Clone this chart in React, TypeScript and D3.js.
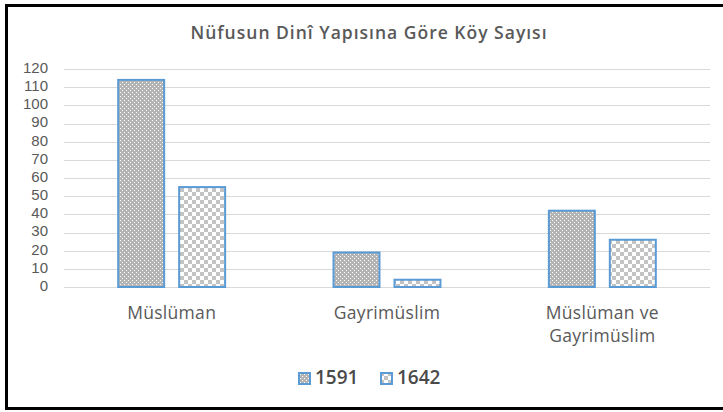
import { useEffect, useRef } from "react";
import * as d3 from "d3";

const categories = ["Müslüman", "Gayrimüslim", "Müslüman ve Gayrimüslim"];
const categoryLines = [["Müslüman"], ["Gayrimüslim"], ["Müslüman ve", "Gayrimüslim"]];
const seriesNames = ["1591", "1642"];
const values1591 = [114, 19, 42];
const values1642 = [55, 4, 26];
const yTicks = [0, 10, 20, 30, 40, 50, 60, 70, 80, 90, 100, 110, 120];
const title = "Nüfusun Dinî Yapısına Göre Köy Sayısı";

const W = 723;
const H = 412;
const font = "'Open Sans', sans-serif";
const textColor = "#595959";
const barStroke = "#5b9bd5";

export default function App() {
  const ref = useRef<SVGSVGElement | null>(null);

  useEffect(() => {
    const svg = d3.select(ref.current);
    svg.selectAll("*").remove();

    // patterns for the two series
    const defs = svg.append("defs");
    const dots = defs
      .append("pattern")
      .attr("id", "pat-dots")
      .attr("patternUnits", "userSpaceOnUse")
      .attr("width", 4)
      .attr("height", 4);
    dots.append("rect").attr("width", 4).attr("height", 4).attr("fill", "#b4b4b4");
    dots.append("rect").attr("x", 0).attr("y", 0).attr("width", 1).attr("height", 1).attr("fill", "#fff");
    dots.append("rect").attr("x", 2).attr("y", 2).attr("width", 1).attr("height", 1).attr("fill", "#fff");

    const checks = defs
      .append("pattern")
      .attr("id", "pat-checks")
      .attr("patternUnits", "userSpaceOnUse")
      .attr("width", 8)
      .attr("height", 8);
    checks.append("rect").attr("width", 8).attr("height", 8).attr("fill", "#fff");
    checks.append("rect").attr("x", 0).attr("y", 0).attr("width", 4).attr("height", 4).attr("fill", "#c3c3c3");
    checks.append("rect").attr("x", 4).attr("y", 4).attr("width", 4).attr("height", 4).attr("fill", "#c3c3c3");

    const fills = ["url(#pat-dots)", "url(#pat-checks)"];

    svg.append("rect").attr("width", W).attr("height", H).attr("fill", "#fff");

    // outer frame (right edge cut off)
    svg
      .append("rect")
      .attr("x", 6.5)
      .attr("y", 5.5)
      .attr("width", 740)
      .attr("height", 403)
      .attr("fill", "none")
      .attr("stroke", "#000")
      .attr("stroke-width", 3);

    svg
      .append("text")
      .attr("x", 369)
      .attr("y", 34)
      .attr("text-anchor", "middle")
      .attr("dominant-baseline", "middle")
      .style("font-family", font)
      .style("font-size", "17.5px")
      .style("letter-spacing", "1px")
      .style("font-weight", 600)
      .attr("fill", textColor)
      .text(title);

    const x = d3.scaleBand().domain(categories).range([64, 710]).paddingInner(0.494).paddingOuter(0.247);
    const xInner = d3.scaleBand().domain(seriesNames).range([0, x.bandwidth()]).paddingInner(0.213);
    const y = d3.scaleLinear().domain([0, 120]).range([287, 69]);

    // gridlines
    svg
      .append("g")
      .selectAll("line")
      .data(yTicks)
      .join("line")
      .attr("x1", 64)
      .attr("x2", 710)
      .attr("y1", (d) => Math.round(y(d)) + 0.5)
      .attr("y2", (d) => Math.round(y(d)) + 0.5)
      .attr("stroke", "#d9d9d9")
      .attr("stroke-width", 1);

    // y tick labels
    svg
      .append("g")
      .selectAll("text")
      .data(yTicks)
      .join("text")
      .attr("x", 48)
      .attr("y", (d) => y(d))
      .attr("text-anchor", "end")
      .attr("dominant-baseline", "middle")
      .style("font-family", "'Liberation Sans', sans-serif")
      .style("font-size", "15px")
      .attr("fill", textColor)
      .text((d) => d);

    const seriesValues = [values1591, values1642];
    seriesNames.forEach((s, si) => {
      svg
        .append("g")
        .selectAll("rect")
        .data(categories)
        .join("rect")
        .attr("x", (c) => (x(c) ?? 0) + (xInner(s) ?? 0) + 1)
        .attr("y", (c, i) => y(seriesValues[si][i]))
        .attr("width", xInner.bandwidth() - 2)
        .attr("height", (c, i) => y(0) - y(seriesValues[si][i]))
        .attr("fill", fills[si])
        .attr("stroke", barStroke)
        .attr("stroke-width", 2);
    });

    // category labels
    const cat = svg
      .append("g")
      .selectAll("text")
      .data(categories)
      .join("text")
      .attr("text-anchor", "middle")
      .style("font-family", font)
      .style("font-size", "17.5px")
      .style("letter-spacing", "0.3px")
      .attr("fill", textColor);
    cat.each(function (c, i) {
      const cx = (x(c) ?? 0) + x.bandwidth() / 2;
      categoryLines[i].forEach((line, li) => {
        d3.select(this)
          .append("tspan")
          .attr("x", cx)
          .attr("y", 319 + li * 23)
          .text(line);
      });
    });

    // legend
    const legendX = [298, 380];
    seriesNames.forEach((s, si) => {
      const g = svg.append("g").attr("transform", `translate(${legendX[si]},372)`);
      g.append("rect")
        .attr("x", 1)
        .attr("y", 1)
        .attr("width", 11)
        .attr("height", 11)
        .attr("fill", fills[si])
        .attr("stroke", barStroke)
        .attr("stroke-width", 2);
      g.append("text")
        .attr("x", 17)
        .attr("y", 7)
        .attr("dominant-baseline", "middle")
        .style("font-family", font)
        .style("font-size", "19px")
        .style("font-weight", 600)
        .attr("fill", "#4a4a4a")
        .text(s);
    });
  }, []);

  return (
    <svg
      ref={ref}
      width={W}
      height={H}
      style={{ position: "absolute", left: 0, top: 0, display: "block" }}
    />
  );
}
